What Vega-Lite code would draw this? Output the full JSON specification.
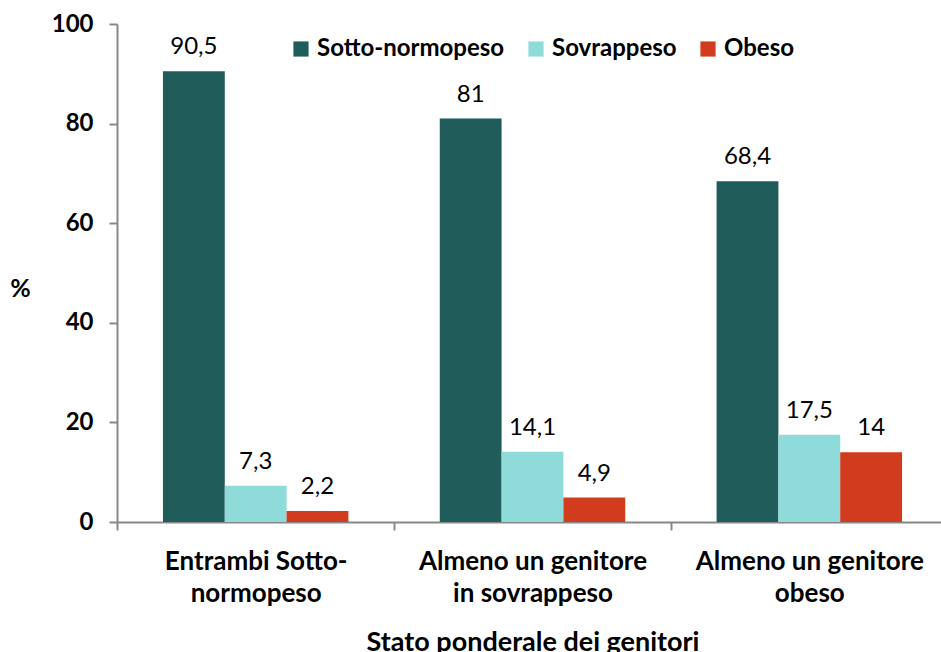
{
  "$schema": "https://vega.github.io/schema/vega-lite/v6.json",
  "autosize": {"type": "none"},
  "padding": {"left": 117, "top": 24, "right": 3, "bottom": 130},
  "width": 821,
  "height": 498,
  "background": "white",
  "config": {
    "font": "Lato",
    "view": {"stroke": null},
    "locale": {"number": {"decimal": ",", "thousands": ".", "grouping": [3], "currency": ["", "€"]}}
  },
  "data": {
    "values": [
      {"gruppo": "Entrambi Sotto-normopeso", "stato": "Sotto-normopeso", "valore": 90.5},
      {"gruppo": "Entrambi Sotto-normopeso", "stato": "Sovrappeso", "valore": 7.3},
      {"gruppo": "Entrambi Sotto-normopeso", "stato": "Obeso", "valore": 2.2},
      {"gruppo": "Almeno un genitore in sovrappeso", "stato": "Sotto-normopeso", "valore": 81},
      {"gruppo": "Almeno un genitore in sovrappeso", "stato": "Sovrappeso", "valore": 14.1},
      {"gruppo": "Almeno un genitore in sovrappeso", "stato": "Obeso", "valore": 4.9},
      {"gruppo": "Almeno un genitore obeso", "stato": "Sotto-normopeso", "valore": 68.4},
      {"gruppo": "Almeno un genitore obeso", "stato": "Sovrappeso", "valore": 17.5},
      {"gruppo": "Almeno un genitore obeso", "stato": "Obeso", "valore": 14}
    ]
  },
  "encoding": {
    "x": {
      "field": "gruppo", "type": "nominal", "sort": null,
      "scale": {"range": [0, 831], "paddingInner": 0.33, "paddingOuter": 0.166},
      "axis": {
        "title": "Stato ponderale dei genitori",
        "titleFontSize": 27, "titleFontWeight": "bold", "titleColor": "black",
        "titleY": 120, "titleBaseline": "middle",
        "labelAngle": 0, "labelFontSize": 26, "labelFontWeight": "bold", "labelColor": "black",
        "labelPadding": 18, "labelLineHeight": 32, "labelLimit": 0,
        "labelExpr": "datum.value == 'Entrambi Sotto-normopeso' ? ['Entrambi Sotto-', 'normopeso'] : datum.value == 'Almeno un genitore in sovrappeso' ? ['Almeno un genitore', 'in sovrappeso'] : datum.value == 'Almeno un genitore obeso' ? ['Almeno un genitore', 'obeso'] : ''",
        "bandPosition": 0, "tickOffset": -46, "labelOffset": 46,
        "tickSize": 8, "tickColor": "#888888", "tickWidth": 2,
        "domainColor": "#888888", "domainWidth": 2
      }
    },
    "xOffset": {"field": "stato", "type": "nominal", "sort": ["Sotto-normopeso", "Sovrappeso", "Obeso"]},
    "y": {
      "field": "valore", "type": "quantitative",
      "scale": {"domain": [0, 100]},
      "axis": {
        "title": "%", "titleAngle": 0, "titleX": -97, "titleY": 264,
        "titleAlign": "center", "titleBaseline": "middle",
        "titleFontSize": 25, "titleFontWeight": "bold", "titleColor": "black",
        "values": [0, 20, 40, 60, 80, 100],
        "grid": false, "labelFontSize": 24, "labelFontWeight": "bold", "labelColor": "black",
        "labelPadding": 16, "tickSize": 8, "tickColor": "#888888", "tickWidth": 2,
        "domainColor": "#888888", "domainWidth": 2
      }
    }
  },
  "layer": [
    {
      "mark": {"type": "bar"},
      "encoding": {
        "color": {
          "field": "stato", "type": "nominal",
          "sort": ["Sotto-normopeso", "Sovrappeso", "Obeso"],
          "scale": {"domain": ["Sotto-normopeso", "Sovrappeso", "Obeso"], "range": ["#1F5C5A", "#8FDBD9", "#D13B1E"]},
          "legend": {
            "title": null, "orient": "none", "direction": "horizontal",
            "legendX": 172, "legendY": 13,
            "symbolType": "square", "symbolSize": 230, "symbolStrokeWidth": 0,
            "labelFontSize": 24, "labelFontWeight": "bold", "labelColor": "black",
            "columnPadding": 19, "labelOffset": 4, "labelLimit": 0
          }
        }
      }
    },
    {
      "mark": {"type": "text", "baseline": "bottom", "dy": -12, "fontSize": 24, "color": "black"},
      "encoding": {
        "text": {"field": "valore", "type": "quantitative", "format": ",.1~f"}
      }
    }
  ]
}
